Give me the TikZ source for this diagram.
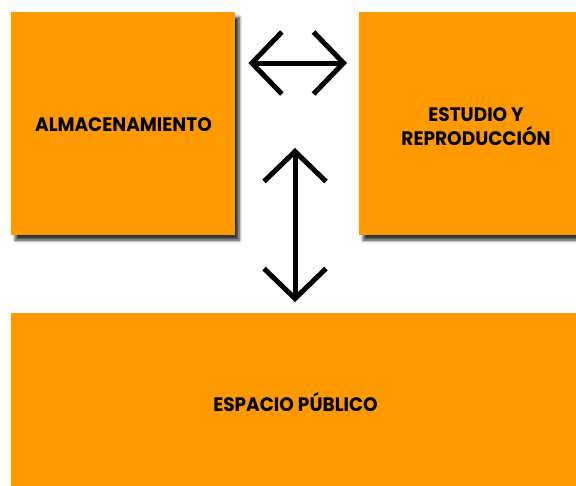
\documentclass[tikz,border=0pt]{standalone}
\usepackage{fontspec}
\setmainfont{Poppins}
\newfontfamily\boxfont[FakeStretch=0.95]{Poppins}
\usetikzlibrary{arrows.meta,shadows.blur}
\definecolor{boxorange}{HTML}{FF9900}
\tikzset{
  box/.style={fill=boxorange, draw=none, inner sep=0pt, anchor=north west,
    blur shadow={shadow xshift=4pt, shadow yshift=-5pt, shadow blur radius=3pt, shadow blur steps=6, shadow opacity=80}},
  boxtext/.style={font=\boxfont\fontsize{19.5}{24}\selectfont\bfseries, text=black, align=center, inner sep=0pt},
  dblarrow/.style={line width=5pt, {Straight Barb[length=30pt,width=62pt]}-{Straight Barb[length=30pt,width=62pt]}}
}
\begin{document}
\begin{tikzpicture}[x=1pt,y=-1pt]
\useasboundingbox (0,0) rectangle (576,485);
\node[box, minimum width=224pt, minimum height=223pt] (L) at (11,12) {};
\node[box, minimum width=224pt, minimum height=223pt] (R) at (359,12) {};
\node[box, minimum width=575pt, minimum height=180pt] (P) at (11,313) {};
\node[boxtext] (tL) at (123.5,125) {ALMACENAMIENTO};
\node[boxtext] (tR) at (476,127) {ESTUDIO Y\\REPRODUCCIÓN};
\node[boxtext] (tP) at (295.5,402) {ESPACIO PÚBLICO};
\coordinate (h) at (0,63);
\coordinate (vtop) at (295,148);
\draw[dblarrow, shorten <=13pt, shorten >=12pt] (L.east |- h) -- (R.west |- h);
\draw[dblarrow, shorten >=11pt] (vtop) -- (P.north -| vtop);
\end{tikzpicture}
\end{document}
